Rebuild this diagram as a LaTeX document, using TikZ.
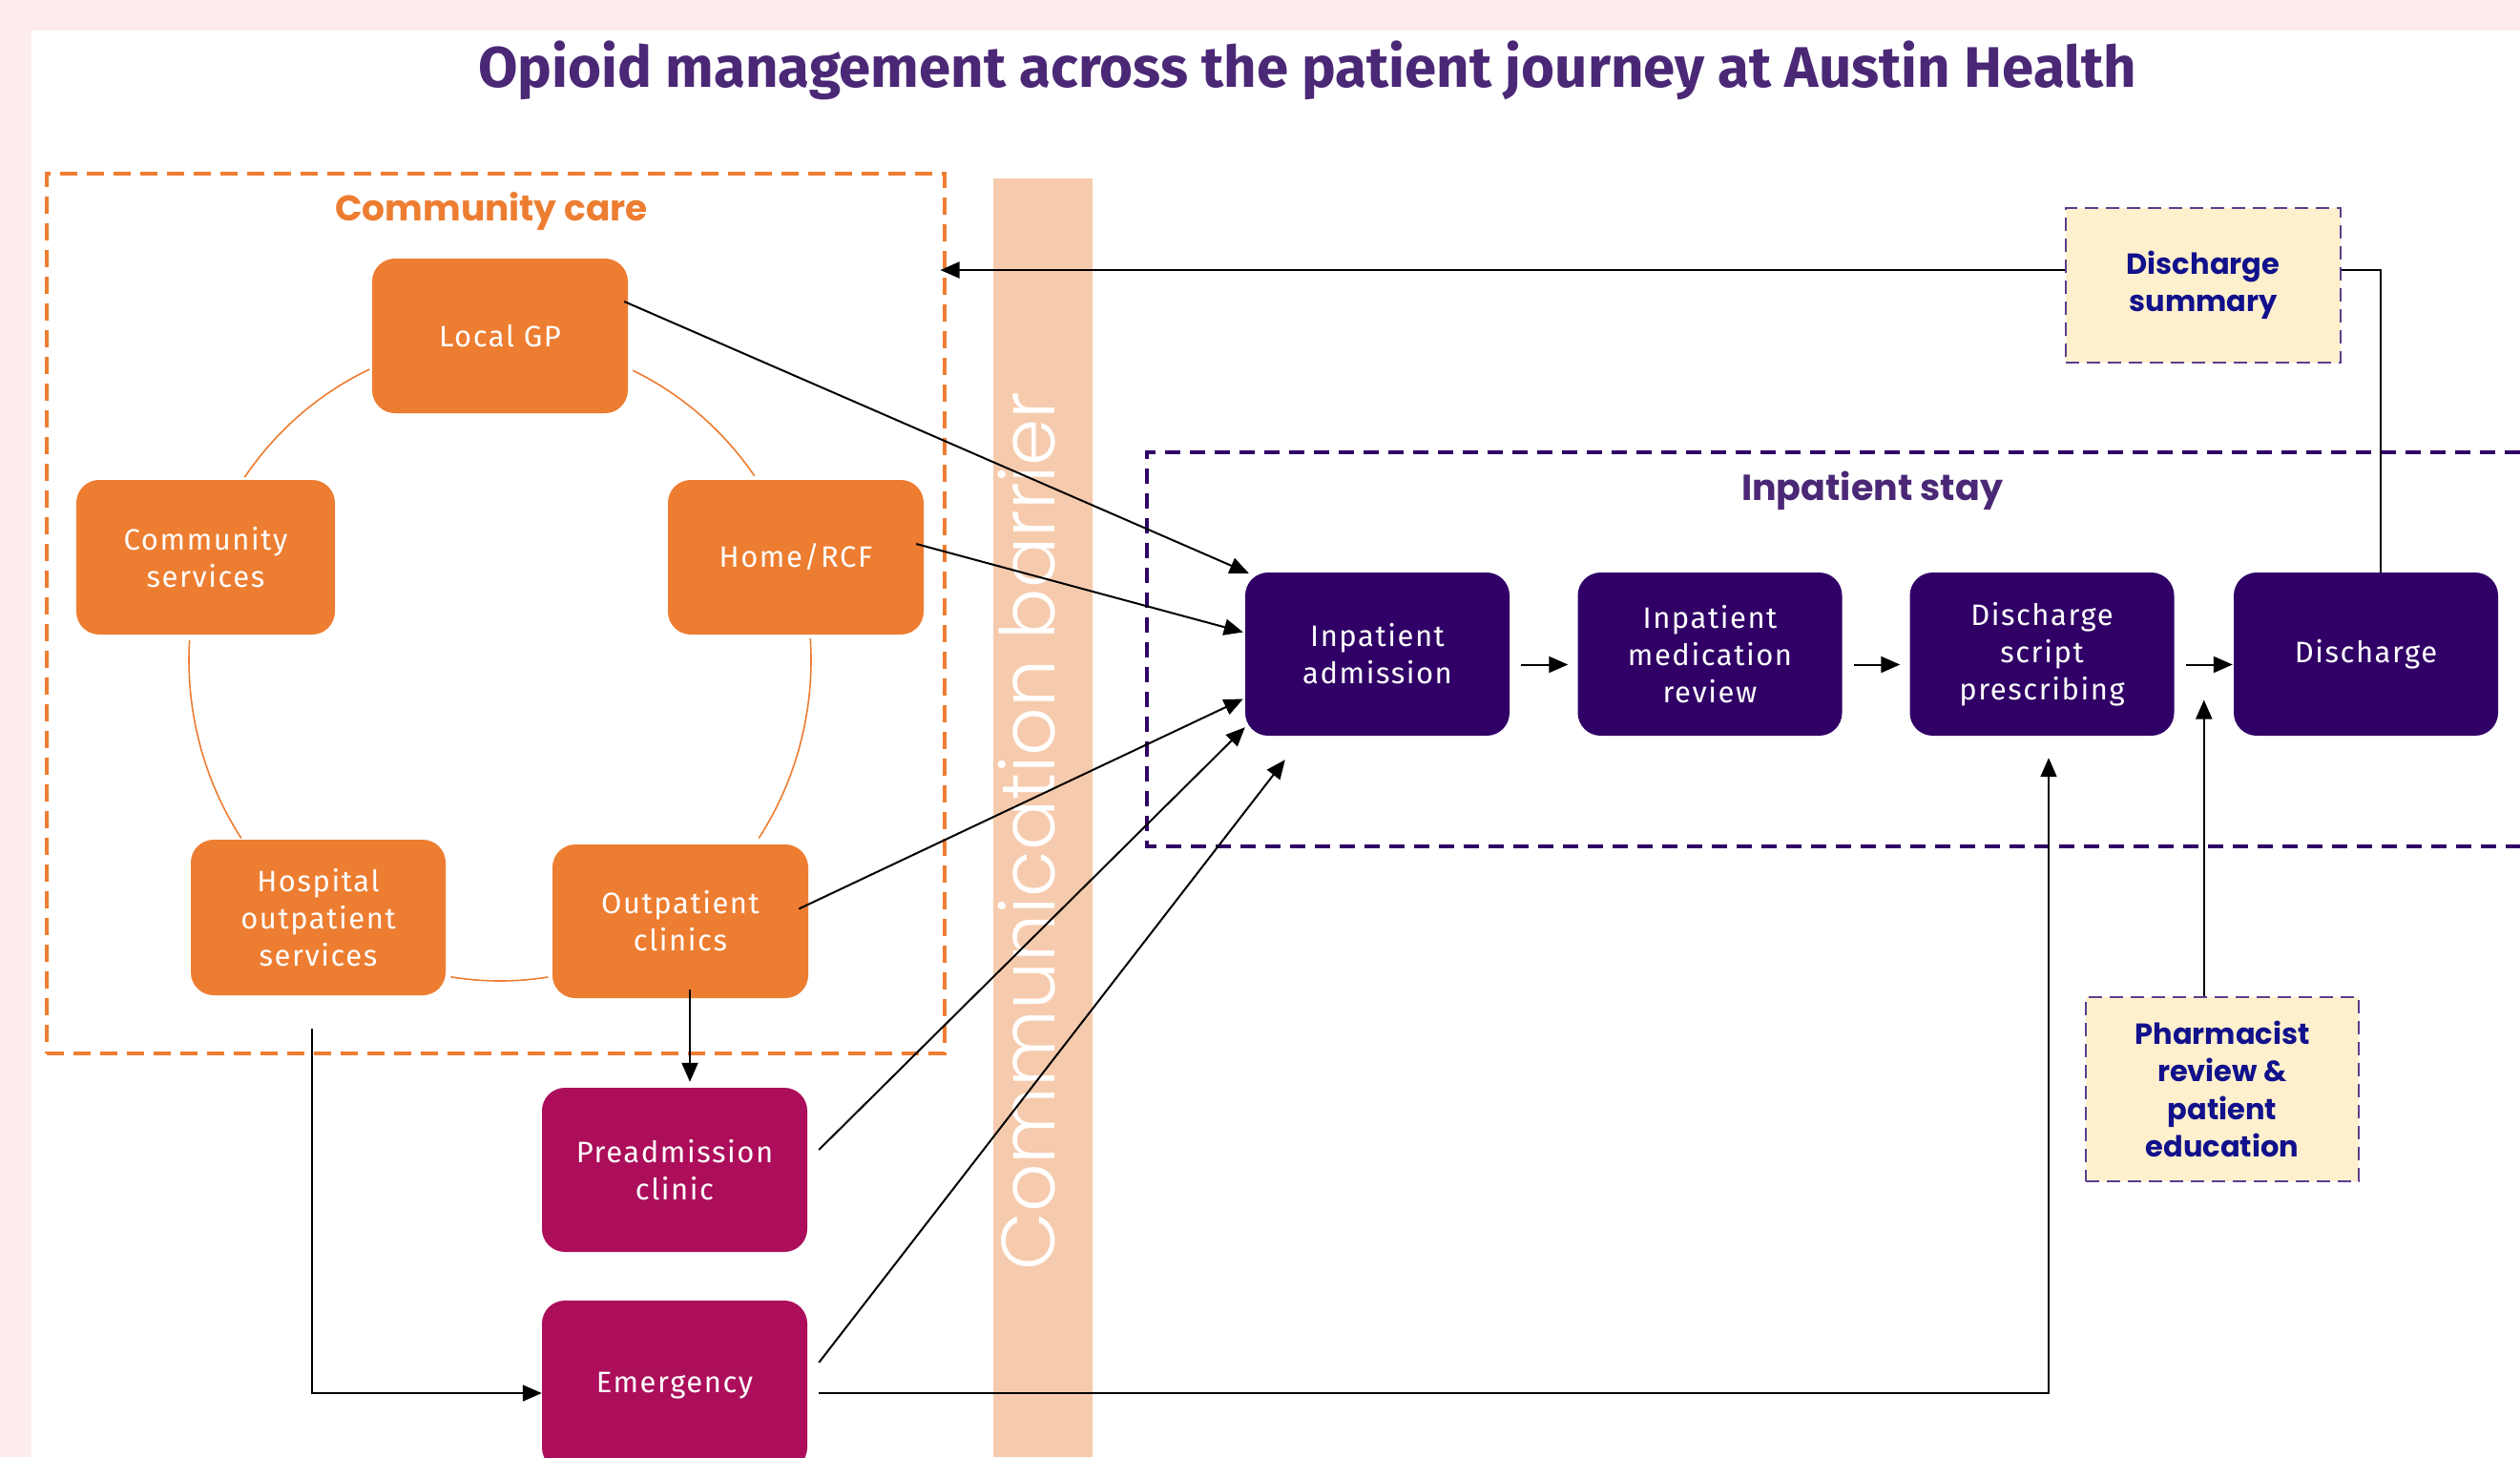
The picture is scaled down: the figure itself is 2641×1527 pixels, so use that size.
\documentclass[tikz,border=0pt]{standalone}
\usepackage{fontspec}
\setmainfont{Fira Sans}
\newfontfamily\boxfont{Fira Sans}[LetterSpace=5]
\newfontfamily\headfont{Poppins}[UprightFont=* Bold]
\newfontfamily\barrierfont{Poppins}[UprightFont=* Light]
\usetikzlibrary{arrows.meta,calc}
\definecolor{bgpink}{HTML}{FDECEC}
\definecolor{corange}{HTML}{ED7D31}
\definecolor{cmagenta}{HTML}{AC0E5B}
\definecolor{cpurple}{HTML}{300066}
\definecolor{ctitle}{HTML}{4B2876}
\definecolor{cband}{HTML}{F6CBAD}
\definecolor{ccream}{HTML}{FFF0CD}
\definecolor{cnavy}{HTML}{11118C}
\definecolor{cnoteborder}{HTML}{5B3D8E}
\begin{document}
\begin{tikzpicture}[x=1pt,y=-1pt,
  basebox/.style={rounded corners=24pt, text=white, align=center, inner sep=0pt,
    font=\boxfont\fontsize{31}{39}\selectfont},
  obox/.style={basebox, fill=corange, minimum width=268, minimum height=162},
  mbox/.style={basebox, fill=cmagenta, minimum width=278, minimum height=170},
  pbox/.style={basebox, fill=cpurple, minimum width=277, minimum height=171},
  notebox/.style={fill=ccream, draw=cnoteborder, line width=2.5pt, dash pattern=on 14pt off 8pt,
    text=cnavy, align=center, inner sep=0pt, font=\headfont\fontsize{30.5}{39.5}\selectfont},
  arr/.style={draw=black, line width=2pt, -{Triangle[length=20pt,width=17pt]}},
  plainline/.style={draw=black, line width=2pt},
  arcline/.style={draw=corange, line width=1.6pt},
  ccdash/.style={draw=corange, line width=3.5pt, dash pattern=on 18pt off 10pt},
  ipdash/.style={draw=cpurple, line width=3.5pt, dash pattern=on 16pt off 10pt}
]
\useasboundingbox (0,0) rectangle (2641,1527);
\fill[bgpink] (0,0) rectangle (2641,1527);
\fill[white] (33,32) rectangle (2641,1527);

% title
\node[anchor=base, text=ctitle, font=\bfseries\fontsize{60}{64}\selectfont] (title) at (1370,91)
  {Opioid management across the patient journey at Austin Health};

% communication barrier band
\fill[cband] (1041,187) rectangle (1145,1527);
\node[rotate=90, anchor=base, text=white, font=\barrierfont\fontsize{79}{84}\selectfont] (barrier)
  at (1105,871) {Communication barrier};

% community care frame
\node[ccdash, anchor=north west, minimum width=941, minimum height=922, inner sep=0pt] (comm) at (47,180) {};
\node[anchor=base, text=corange, font=\headfont\fontsize{37.5}{42}\selectfont] (commlabel) at (515,231) {Community care};

% inpatient stay frame (open to the right)
\draw[ipdash] (2641,474) -- (1202,474) -- (1202,887) -- (2641,887);
\node[anchor=base, text=ctitle, font=\headfont\fontsize{38}{42}\selectfont] (iplabel) at (1962,524) {Inpatient stay};

% ring arcs
\draw[arcline] (524,692) ++(-145.2:326 and 336) arc[start angle=-145.2, end angle=-114.8, x radius=326, y radius=336];
\draw[arcline] (524,692) ++(-64.7:326 and 336) arc[start angle=-64.7, end angle=-35.1, x radius=326, y radius=336];
\draw[arcline] (524,692) ++(146.3:326 and 336) arc[start angle=146.3, end angle=183.6, x radius=326, y radius=336];
\draw[arcline] (524,692) ++(-3.9:326 and 336) arc[start angle=-3.9, end angle=33.7, x radius=326, y radius=336];
\draw[arcline] (524,692) ++(81.1:326 and 336) arc[start angle=81.1, end angle=99.1, x radius=326, y radius=336];

% community nodes
\node[obox] (gp) at (524,352) {Local GP};
\node[obox, minimum width=271] (cs) at (215.5,584) {Community\\services};
\node[obox] (home) at (834,584) {Home/RCF};
\node[obox, minimum width=267, minimum height=163] (hosp) at (333.5,961.5) {Hospital\\outpatient\\services};
\node[obox, minimum height=161] (outp) at (713,965.5) {Outpatient\\clinics};

% hospital entry nodes
\node[mbox, minimum height=172] (pre) at (707,1226) {Preadmission\\clinic};
\node[mbox, minimum height=178] (em) at (707,1452) {Emergency};

% inpatient nodes
\node[pbox] (adm) at (1443.5,685.5) {Inpatient\\admission};
\node[pbox] (med) at (1792,685.5) {Inpatient\\medication\\review};
\node[pbox] (script) at (2140,685.5) {Discharge\\script\\prescribing};
\node[pbox] (dis) at (2479.5,685.5) {Discharge};

% notes
\node[notebox, minimum width=288, minimum height=162] (summ) at (2309,299) {Discharge\\summary};
\node[notebox, minimum width=286, minimum height=193] (pharm) at (2329,1141.5) {Pharmacist\\review \&\\patient\\education};

% connectors into admission
\draw[arr] ($(gp.east)+(-4,-36)$) -- ($(adm.north west)+(4,1)$);
\draw[arr] ($(home.east)+(-8,-14)$) -- ($(adm.west)+(-2,-23)$);
\draw[arr] ($(outp.east)+(-10,-13)$) -- ($(adm.west)+(-2,47)$);
\draw[arr] ($(pre.east)+(12,-21)$) -- ($(adm.south west)+(0,-9)$);
\draw[arr] ($(em.east)+(12,-24)$) -- ($(adm.south west)+(42,25)$);

% community flows
\draw[arr] ($(outp.south)+(10,-9)$) -- ($(pre.north)+(16,-6)$);
\draw[arr] ($(hosp.south)+(-7,35)$) |- ($(em.west)+(0,8)$);
\draw[arr] ($(em.east)+(12,8)$) -| ($(script.south)+(7,23)$);

% inpatient chain
\draw[arr] ($(adm.east)+(12,11)$) -- ($(med.west)+(-10,11)$);
\draw[arr] ($(med.east)+(12,11)$) -- ($(script.west)+(-10,11)$);
\draw[arr] ($(script.east)+(12,11)$) -- ($(dis.west)+(-1,11)$);

% pharmacist input
\coordinate (ptip) at ($(script.east)!0.5!(dis.west)+(0,48)$);
\draw[arr] (ptip |- pharm.north) -- (ptip);

% discharge summary back to community
\coordinate (cctip) at ($(comm.east |- summ.west)+(-6,-16)$);
\draw[plainline] ($(dis.north)+(15,0)$) |- ($(summ.east)+(0,-16)$);
\draw[arr] ($(summ.west)+(0,-16)$) -- (cctip);
\end{tikzpicture}
\end{document}
